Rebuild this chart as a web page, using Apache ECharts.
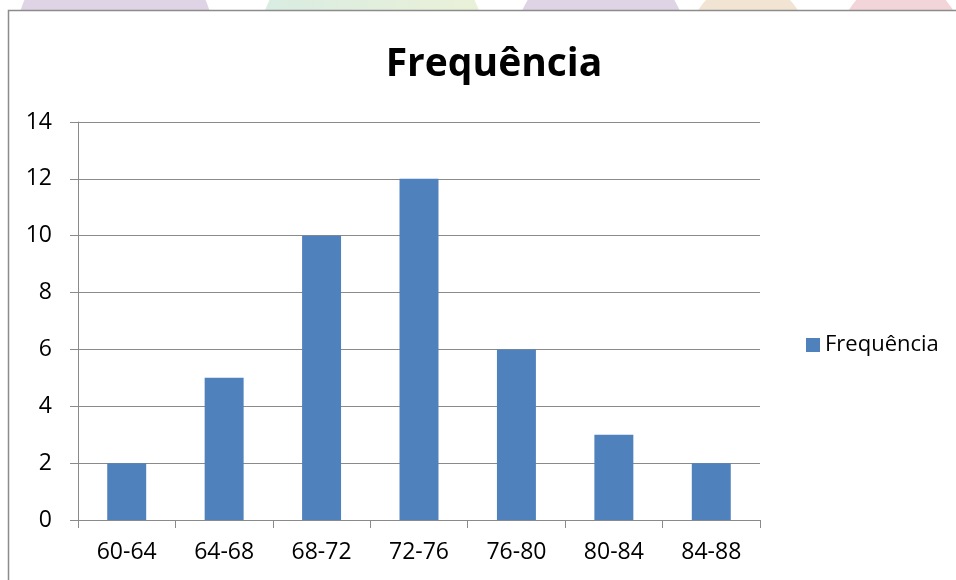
<!DOCTYPE html>
<html><head><meta charset="utf-8">
<script src="https://cdn.jsdelivr.net/npm/echarts@6/dist/echarts.min.js"></script>
<style>html,body{margin:0;padding:0;background:#fff}#c{width:956px;height:580px}</style>
</head><body><div id="c"></div>
<script>
var categories = ['60-64','64-68','68-72','72-76','76-80','80-84','84-88'];
var values = [2,5,10,12,6,3,2];
var seriesName = 'Frequência';
var yTicks = {min:0, max:14, interval:2};
var chart = echarts.init(document.getElementById('c'));
var font = 'Open Sans, Liberation Sans, sans-serif';
chart.setOption({
  animation:false,
  backgroundColor:'#fff',
  graphic:[
    {type:'circle',shape:{cx:115,cy:40,r:99},style:{fill:'#dfd3e6'},z:-10},
    {type:'circle',shape:{cx:372,cy:50,r:114},style:{fill:new echarts.graphic.LinearGradient(0,0,1,0,[{offset:0,color:'#d8ece2'},{offset:1,color:'#ebf1d8'}])},z:-10},
    {type:'circle',shape:{cx:601,cy:45,r:86},style:{fill:'#dfd3e6'},z:-10},
    {type:'circle',shape:{cx:748,cy:40,r:58},style:{fill:'#f2e4d3'},z:-10},
    {type:'circle',shape:{cx:901,cy:40,r:60},style:{fill:'#f2d5d8'},z:-10},
    {type:'rect',shape:{x:8.5,y:10.5,width:960,height:600},style:{fill:'#fff',stroke:'#8c8c8c',lineWidth:1.5},z:-5}
  ],
  title:{text:'Frequência',left:489,textAlign:'center',top:40,textStyle:{fontFamily:font,fontWeight:'bold',fontSize:39,color:'#000'}},
  legend:{data:[seriesName],left:801,top:329,orient:'vertical',itemWidth:14,itemHeight:14,icon:'rect',textStyle:{fontFamily:font,fontSize:22,color:'#000'}},
  grid:{left:78,right:196,top:122,bottom:60,containLabel:false},
  xAxis:{type:'category',data:categories,boundaryGap:true,
    axisLine:{lineStyle:{color:'#8a8a8a'}},
    axisTick:{show:true,length:8,inside:false,lineStyle:{color:'#8a8a8a'}},
    axisLabel:{fontFamily:font,fontSize:23,color:'#000',margin:21}},
  yAxis:{type:'value',min:yTicks.min,max:yTicks.max,interval:yTicks.interval,
    axisLine:{show:true,lineStyle:{color:'#8a8a8a'}},
    axisTick:{show:true,length:8,lineStyle:{color:'#8a8a8a'}},
    splitLine:{lineStyle:{color:'#8a8a8a'}},
    axisLabel:{fontFamily:font,fontSize:23,color:'#000',margin:26}},
  series:[{name:seriesName,type:'bar',data:values,barWidth:'40%',itemStyle:{color:'#4f81bd'}}]
});
</script></body></html>
